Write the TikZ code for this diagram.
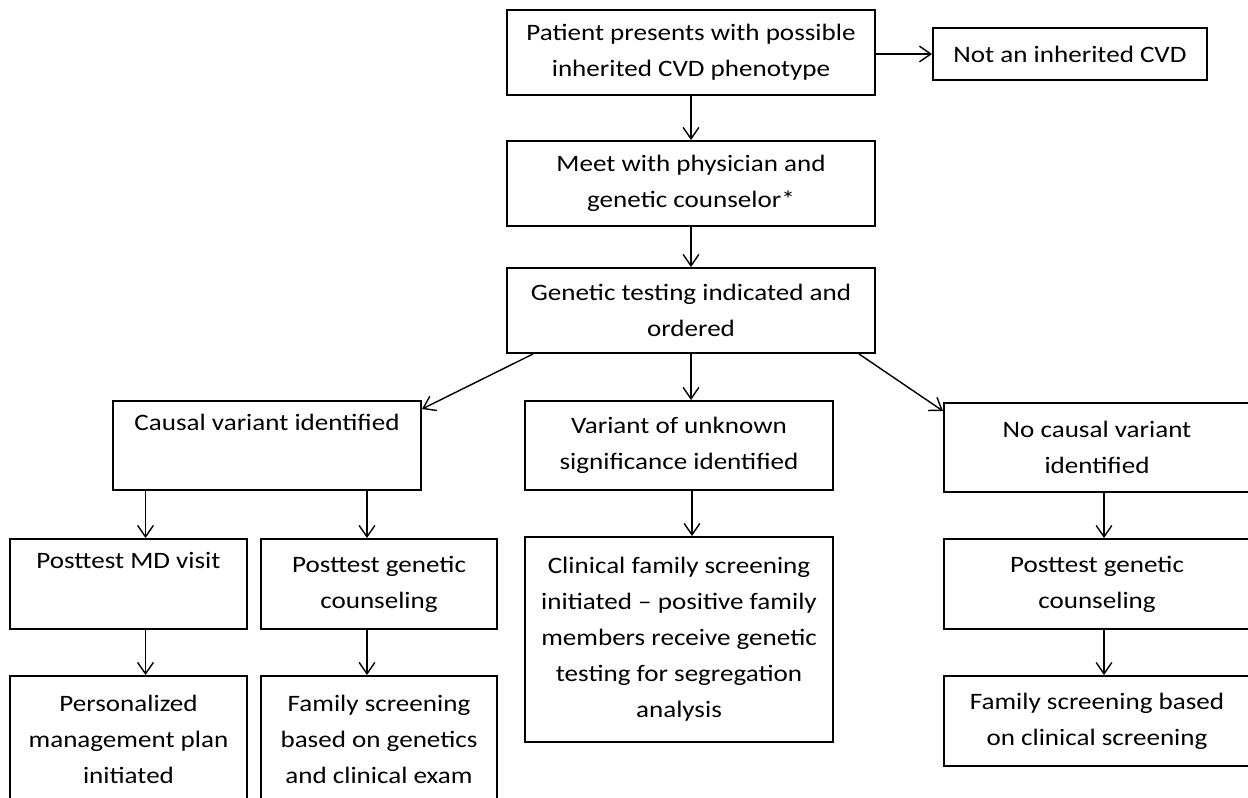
\documentclass[tikz,border=0pt]{standalone}
\usepackage{fontspec}
\setmainfont{Carlito}[FakeStretch=1.15]
\usetikzlibrary{arrows.meta}

\begin{document}
\begin{tikzpicture}[x=0.02cm,y=-0.02cm,
    box/.style 2 args={draw,line width=1.1pt,align=center,inner sep=0pt,
      minimum width=#1*0.02cm,minimum height=#2*0.02cm,
      font=\fontsize{13.4}{20.5}\selectfont},
    link/.style={line width=0.8pt,-{Straight Barb[length=6.5pt,width=9pt]}}]
      \clip (0,0) rectangle (1248,798) ;
      % top column
      \node[box={368}{85}] (patient) at (691,52.5) {Patient presents with possible\\inherited CVD phenotype} ;
      \node[box={274}{52}] (notcvd) at (1070,54) {Not an inherited CVD} ;
      \node[box={368}{85}] (meet) at (691,183.5) {Meet with physician and\\genetic counselor*} ;
      \node[box={368}{85}] (genetic) at (691,310.5) {Genetic testing indicated and\\ordered} ;
      % results of the test
      \node[box={308}{89}] (causal) at (267,445.5) {Causal variant identified\\\strut} ;
      \node[box={308}{89}] (vus) at (679,445.5) {Variant of unknown\\significance identified} ;
      \node[box={306}{89}] (nocausal) at (1097,447.5) {No causal variant\\identified} ;
      % follow-up
      \node[box={237}{90}] (pmd) at (128.5,584) {Posttest MD visit\\\strut} ;
      \node[box={236}{90}] (pgcl) at (379,584) {Posttest genetic\\counseling} ;
      \node[box={308}{205}] (clinical) at (679,639.5) {Clinical family screening\\initiated -- positive family\\members receive genetic\\testing for segregation\\analysis} ;
      \node[box={306}{90}] (pgcr) at (1097,584) {Posttest genetic\\counseling} ;
      \node[box={237}{126}] (personal) at (128.5,739) {Personalized\\management plan\\initiated} ;
      \node[box={236}{126}] (famgen) at (379,739) {Family screening\\based on genetics\\and clinical exam} ;
      \node[box={306}{90}] (famclin) at (1097,721) {Family screening based\\on clinical screening} ;
      % arrows
      \draw[link] (patient.east |- notcvd.west) -- (notcvd.west) ;
      \draw[link] (patient) -- (meet) ;
      \draw[link] (meet) -- (genetic) ;
      \draw[link] ([xshift=5.4mm]genetic.south west) -- ([yshift=-1.8mm]causal.north east) ;
      \draw[link] (genetic.south) -- (genetic.south |- vus.north) ;
      \draw[link] ([xshift=-3.4mm]genetic.south east) -- ([yshift=-1.8mm]nocausal.north west) ;
      \draw[link] ([xshift=3.4mm]pmd.north |- causal.south) -- ([xshift=3.4mm]pmd.north) ;
      \draw[link] ([xshift=-2.4mm]pgcl.north |- causal.south) -- ([xshift=-2.4mm]pgcl.north) ;
      \draw[link] ([xshift=2.6mm]vus.south) -- ([xshift=2.6mm]clinical.north) ;
      \draw[link] ([xshift=1.4mm]nocausal.south) -- ([xshift=1.4mm]pgcr.north) ;
      \draw[link] ([xshift=3.4mm]pmd.south) -- ([xshift=3.4mm]personal.north) ;
      \draw[link] ([xshift=-2.4mm]pgcl.south) -- ([xshift=-2.4mm]famgen.north) ;
      \draw[link] ([xshift=1.4mm]pgcr.south) -- ([xshift=1.4mm]famclin.north) ;
    \end{tikzpicture}
\end{document}
